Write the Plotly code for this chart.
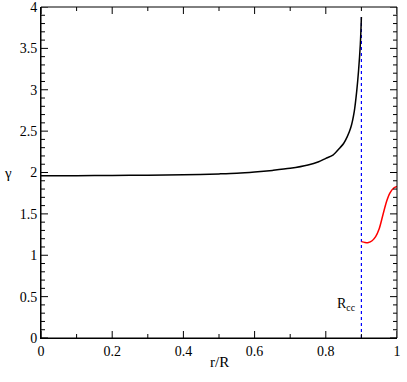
import plotly.graph_objects as go

# gamma(r/R) inside the core, up to R_cc
r_in = [0, 0.1, 0.2, 0.3, 0.4, 0.5, 0.55, 0.6, 0.65, 0.7, 0.75, 0.78, 0.8, 0.82,
        0.84, 0.85, 0.86, 0.87, 0.88, 0.887, 0.892, 0.897, 0.9]
g_in = [1.96, 1.962, 1.965, 1.968, 1.973, 1.983, 1.99, 2.005, 2.025, 2.05, 2.09, 2.13,
        2.17, 2.21, 2.30, 2.35, 2.43, 2.54, 2.74, 2.99, 3.23, 3.55, 3.88]

# gamma(r/R) outside R_cc
r_out = [0.9, 0.91, 0.92, 0.93, 0.94, 0.95, 0.96, 0.97, 0.98, 0.99, 1.0]
g_out = [1.165, 1.155, 1.153, 1.175, 1.225, 1.32, 1.48, 1.64, 1.75, 1.81, 1.83]

r_cc = 0.9
rcc_line_y = [0, 3.9]

x_ticks = [0, 0.2, 0.4, 0.6, 0.8, 1]
y_ticks = [0, 0.5, 1, 1.5, 2, 2.5, 3, 3.5, 4]
minor_step = 0.1

font = "Liberation Serif"


def minor_vals(major):
    out = []
    for a, b in zip(major[:-1], major[1:]):
        v = a + minor_step
        while v < b - 1e-9:
            out.append(round(v, 4))
            v += minor_step
    return out


def tick_shapes(fig, vals, axis, length):
    # inside ticks on both opposite sides (Grace-style box)
    for v in vals:
        for side, sign in ((0, 1), (1, -1)):
            if axis == "x":
                fig.add_shape(type="line", xref="x", yref="paper", x0=v, x1=v,
                              ysizemode="pixel", yanchor=side, y0=0, y1=sign * length,
                              line=dict(color="black", width=1))
            else:
                fig.add_shape(type="line", yref="y", xref="paper", y0=v, y1=v,
                              xsizemode="pixel", xanchor=side, x0=0, x1=sign * length,
                              line=dict(color="black", width=1))


fig = go.Figure()
fig.add_trace(go.Scatter(x=[r_cc, r_cc], y=rcc_line_y, mode="lines",
                         line=dict(color="blue", width=1.2, dash="dot")))
fig.add_trace(go.Scatter(x=r_in, y=g_in, mode="lines",
                         line=dict(color="black", width=1.5, shape="spline", smoothing=0.8)))
fig.add_trace(go.Scatter(x=r_out, y=g_out, mode="lines",
                         line=dict(color="red", width=1.5, shape="spline", smoothing=0.8)))

fig.add_annotation(x=0.857, y=0.4, text="R<sub>cc</sub>", showarrow=False,
                   font=dict(family=font, size=14, color="black"))
fig.add_annotation(x=0.5, y=-0.073, xref="paper", yref="paper", text="r/R",
                   xanchor="center", yanchor="middle",
                   showarrow=False, font=dict(family=font, size=15, color="black"))
fig.add_annotation(x=-0.093, y=0.5, xref="paper", yref="paper", text="γ",
                   xanchor="center", yanchor="middle",
                   showarrow=False, font=dict(family=font, size=15, color="black"))

# frame and ticks
fig.add_shape(type="rect", xref="paper", yref="paper", x0=0, y0=0, x1=1, y1=1,
              line=dict(color="black", width=1))
tick_shapes(fig, x_ticks, "x", 7)
tick_shapes(fig, minor_vals(x_ticks), "x", 4)
tick_shapes(fig, y_ticks, "y", 7)
tick_shapes(fig, minor_vals(y_ticks), "y", 4)

axis_common = dict(
    showgrid=False, zeroline=False, showline=True, linecolor="black", linewidth=1,
    ticks="", automargin=False, tickfont=dict(family=font, size=14, color="black"),
    ticklabeloverflow="allow", tickmode="linear",
)

fig.update_layout(
    template="none",
    width=407, height=382, showlegend=False,
    margin=dict(l=41, r=10, t=7, b=44),
    plot_bgcolor="white", paper_bgcolor="white",
    font=dict(family=font),
    xaxis=dict(range=[x_ticks[0], x_ticks[-1]], tick0=x_ticks[0],
               dtick=x_ticks[1] - x_ticks[0], **axis_common),
    yaxis=dict(range=[y_ticks[0], y_ticks[-1]], tick0=y_ticks[0],
               dtick=y_ticks[1] - y_ticks[0], **axis_common),
)

fig.write_html("out.html", config={"displayModeBar": False},
               post_script="document.body.style.margin = '0';")
